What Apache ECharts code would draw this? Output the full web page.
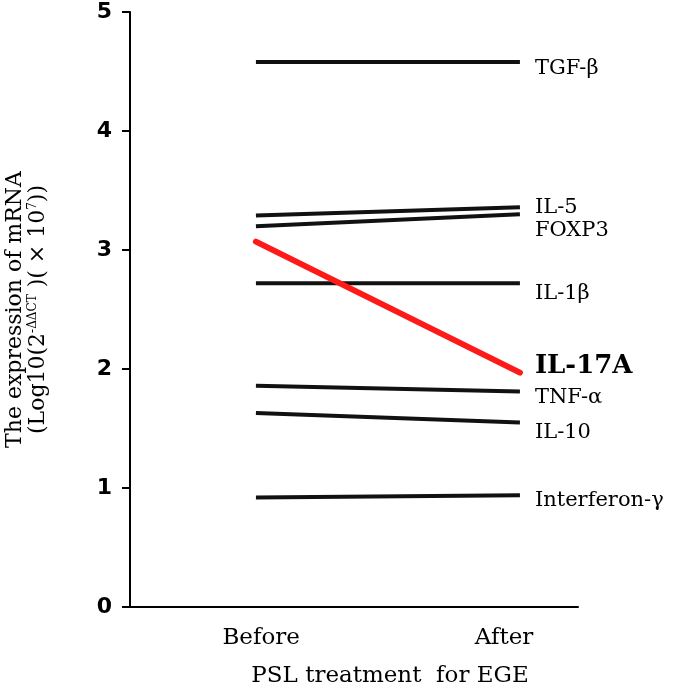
<!DOCTYPE html>
<html><head><meta charset="utf-8">
<script src="https://cdn.jsdelivr.net/npm/echarts@6/dist/echarts.min.js"></script>
<style>html,body{margin:0;padding:0;background:#fff}#c{width:685px;height:688px}</style>
</head><body><div id="c"></div>
<script>
const categories = ['Before', 'After'];
const genes = ['TGF-β', 'IL-5', 'FOXP3', 'IL-1β', 'IL-17A', 'TNF-α', 'IL-10', 'Interferon-γ'];
const beforeValues = [4.58, 3.29, 3.20, 2.72, 3.07, 1.86, 1.63, 0.92];
const afterValues  = [4.58, 3.36, 3.30, 2.72, 1.97, 1.81, 1.55, 0.94];
const yTicks = [0, 1, 2, 3, 4, 5];
const labelDy = [7, 0, 16, 10, -6, 6, 10, 5];

const chart = echarts.init(document.getElementById('c'));
const series = genes.map((g, i) => {
  const hl = g === 'IL-17A';
  return {
    type: 'line', name: g, symbol: 'none', silent: true,
    data: [[0, beforeValues[i]], [1, afterValues[i]]],
    lineStyle: { color: hl ? '#ff1a1a' : '#111', width: hl ? 6 : 4, cap: hl ? 'round' : 'butt' },
    endLabel: {
      show: true, formatter: g, distance: 15, offset: [0, labelDy[i]],
      fontFamily: 'DejaVu Serif', fontSize: hl ? 26 : 21, fontWeight: hl ? 'bold' : 'normal', color: '#000'
    },
    z: hl ? 3 : 2
  };
});
chart.setOption({
  animation: false,
  grid: { left: 130, right: 107, top: 12, bottom: 81, containLabel: false, outerBoundsMode: 'none' },
  xAxis: {
    type: 'value', min: -0.477, max: 1.22,
    axisLine: { show: true, onZero: false, lineStyle: { color: '#000', width: 2 } },
    axisTick: { show: false }, splitLine: { show: false },
    axisLabel: { customValues: [0.02, 0.94], formatter: v => categories[Math.round(v)], margin: 20,
      fontFamily: 'DejaVu Serif', fontSize: 23, color: '#000' },
    name: 'PSL treatment  for EGE', nameLocation: 'middle', nameGap: 58,
    nameTextStyle: { fontFamily: 'DejaVu Serif', fontSize: 23, color: '#000', padding: [0, 0, 0, 72] }
  },
  yAxis: {
    type: 'value', min: 0, max: 5, interval: 1,
    axisLine: { show: true, onZero: false, lineStyle: { color: '#000', width: 2 } },
    axisTick: { show: true, length: 8, lineStyle: { color: '#000', width: 2 } },
    splitLine: { show: false },
    axisLabel: { customValues: yTicks, fontFamily: 'DejaVu Sans', fontWeight: 'bold', fontSize: 22, color: '#000', margin: 18 },
    name: '{t|The expression of mRNA}\n{t|(Log10(2}{s|-ΔΔCT}{t| )( × 10}{s|7}{t|))}',
    nameLocation: 'middle', nameGap: 80, nameRotate: 90,
    nameTextStyle: {
      color: '#000', lineHeight: 23,
      rich: {
        t: { fontFamily: 'DejaVu Serif', fontSize: 22, color: '#000', lineHeight: 23 },
        s: { fontFamily: 'DejaVu Serif', fontSize: 12, color: '#000', verticalAlign: 'top', lineHeight: 23 }
      }
    }
  },
  series: series
});
</script></body></html>
